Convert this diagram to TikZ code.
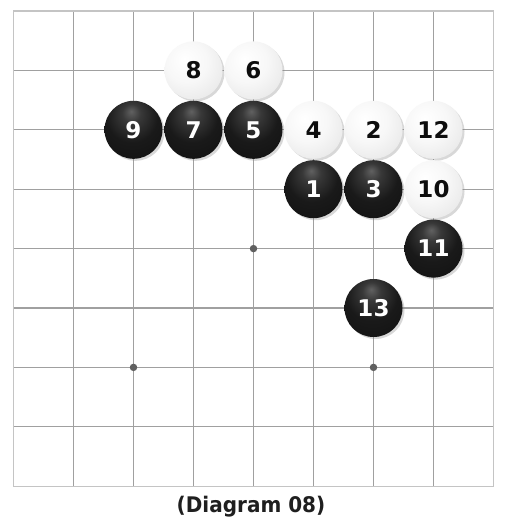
\documentclass[tikz,border=0pt]{standalone}
\usepackage{fontspec}
\setmainfont{DejaVu Sans}
\usetikzlibrary{shadows}
\pgfdeclareradialshading{bstone}{\pgfpoint{-2bp}{16bp}}{color(0bp)=(black!62); color(8bp)=(black!78); color(22bp)=(black!90); color(40bp)=(black!93); color(50bp)=(black!90); color(72bp)=(black)}
\pgfdeclareradialshading{wstone}{\pgfpoint{-8bp}{10bp}}{color(0bp)=(white); color(18bp)=(white!97!black); color(38bp)=(white!90!black); color(50bp)=(white!76!black); color(72bp)=(white!70!black)}
\definecolor{gridgray}{HTML}{A0A0A0}
\definecolor{bordergray}{HTML}{C4C4C4}
\definecolor{stargray}{HTML}{606060}
\tikzset{
  gridline/.style={draw=gridgray, line width=1.1pt},
  borderline/.style={draw=bordergray, line width=1.3pt},
  starpt/.style={circle, fill=stargray, inner sep=0pt, minimum size=7.5pt},
  stonebase/.style={circle, inner sep=0pt, minimum size=58pt,
    font=\fontsize{23}{23}\selectfont\bfseries,
    drop shadow={opacity=0.3, shadow xshift=2pt, shadow yshift=-2pt}},
  blackstone/.style={stonebase, shading=bstone, text=white},
  whitestone/.style={stonebase, shading=wstone, text=black!95},
  caption/.style={font=\fontsize{21.5}{21.5}\selectfont\bfseries, text=black!88}
}
\begin{document}
\begin{tikzpicture}[x=1pt,y=-1pt]
\fill[white] (0,0) rectangle (508,528);
\useasboundingbox (0,0) rectangle (508,528);
\foreach \i in {0,...,8} {
  \foreach \j in {0,...,8} {
    \coordinate (p\i-\j) at ({13.5+60*\i},{11+59.4*\j});
  }
}
\foreach \i in {1,...,7} {
  \draw[gridline] (p\i-0) -- (p\i-8);
  \draw[gridline] (p0-\i) -- (p8-\i);
}
\draw[borderline] (p0-0) rectangle (p8-8);
\node[starpt] (star1) at (p4-4) {};
\node[starpt] (star2) at (p2-6) {};
\node[starpt] (star3) at (p6-6) {};
\node[whitestone] (s8) at (p3-1) {8};
\node[whitestone] (s6) at (p4-1) {6};
\node[blackstone] (s9) at (p2-2) {9};
\node[blackstone] (s7) at (p3-2) {7};
\node[blackstone] (s5) at (p4-2) {5};
\node[whitestone] (s4) at (p5-2) {4};
\node[whitestone] (s2) at (p6-2) {2};
\node[whitestone] (s12) at (p7-2) {12};
\node[blackstone] (s1) at (p5-3) {1};
\node[blackstone] (s3) at (p6-3) {3};
\node[whitestone] (s10) at (p7-3) {10};
\node[blackstone] (s11) at (p7-4) {11};
\node[blackstone] (s13) at (p6-5) {13};
\node[caption] (cap) at (251,507) {\scalebox{0.93}[1]{(Diagram 08)}};
\end{tikzpicture}
\end{document}
